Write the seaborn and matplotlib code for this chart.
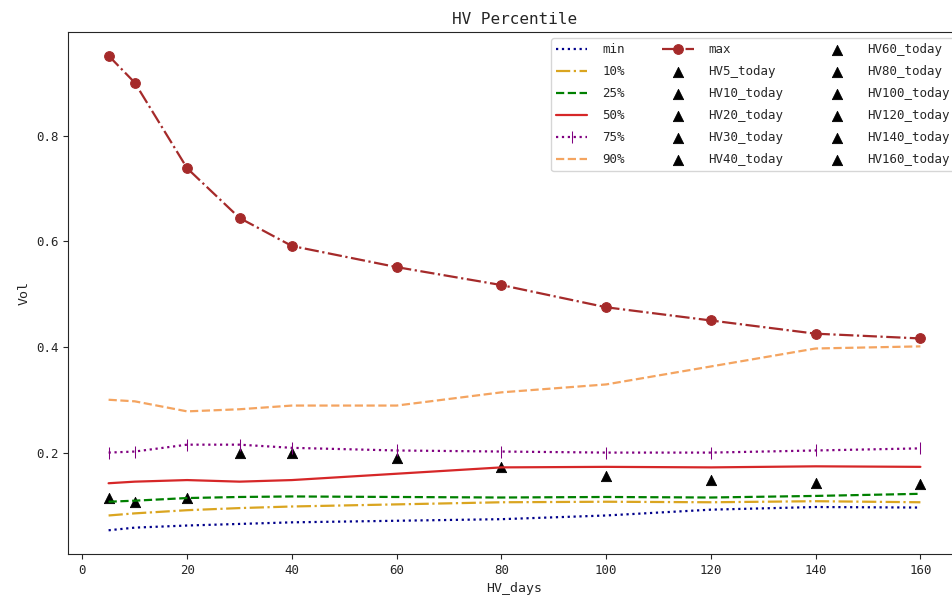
import matplotlib
matplotlib.use('Agg')
import matplotlib.pyplot as plt
import seaborn as sns

# --- Data ---
hv_days = [5, 10, 20, 30, 40, 60, 80, 100, 120, 140, 160]

vol_min = [0.053, 0.058, 0.062, 0.065, 0.068, 0.071, 0.074, 0.081, 0.092, 0.097, 0.096]
vol_p10 = [0.081, 0.085, 0.091, 0.095, 0.098, 0.102, 0.106, 0.107, 0.106, 0.108, 0.106]
vol_p25 = [0.107, 0.109, 0.114, 0.116, 0.117, 0.116, 0.115, 0.116, 0.115, 0.118, 0.122]
vol_p50 = [0.142, 0.145, 0.148, 0.145, 0.148, 0.160, 0.172, 0.173, 0.172, 0.174, 0.173]
vol_p75 = [0.200, 0.202, 0.215, 0.215, 0.209, 0.204, 0.202, 0.200, 0.200, 0.204, 0.208]
vol_p90 = [0.300, 0.297, 0.278, 0.282, 0.289, 0.289, 0.314, 0.329, 0.363, 0.397, 0.401]
vol_max = [0.951, 0.900, 0.738, 0.644, 0.591, 0.551, 0.517, 0.475, 0.450, 0.425, 0.416]

vol_today = [0.114, 0.107, 0.115, 0.200, 0.200, 0.190, 0.172, 0.156, 0.149, 0.143, 0.141]

sns.set_style('ticks')
plt.rcParams['font.family'] = ['DejaVu Sans Mono', 'Noto Sans CJK SC']

fig = plt.figure(figsize=(9.52, 6.03), dpi=100)
# axes runs past the right edge, as in the (cropped) reference
ax = fig.add_axes([68 / 952, 49 / 603, 893 / 952, 522 / 603])

series = [
    ('min', vol_min, 'darkblue', ':', None),
    ('10%', vol_p10, 'goldenrod', '-.', None),
    ('25%', vol_p25, 'green', '--', None),
    ('50%', vol_p50, '#d62728', '-', None),
    ('75%', vol_p75, 'purple', ':', '|'),
    ('90%', vol_p90, 'sandybrown', '--', None),
    ('max', vol_max, 'brown', '-.', 'o'),
]
for label, vals, color, ls, mk in series:
    sns.lineplot(x=hv_days, y=vals, ax=ax, color=color, linestyle=ls,
                 marker=mk, markersize=7 if mk == 'o' else 8,
                 markeredgecolor=color, linewidth=1.6, label=label)

for d, v in zip(hv_days, vol_today):
    sns.scatterplot(x=[d], y=[v], ax=ax, marker='^', color='black',
                    s=55, edgecolor='black', label=f'HV{d}_today')

ax.set_title('HV Percentile', fontsize=11.5)
ax.set_xlabel('HV_days', fontsize=9.5)
ax.set_ylabel('Vol', fontsize=9.5)
ax.tick_params(labelsize=9)
ax.legend(ncol=3, loc='upper right', fontsize=9, framealpha=0.8,
          columnspacing=3.0, handlelength=2.5, handletextpad=1.2,
          labelspacing=0.72)

plt.savefig('out.png', dpi=100)
plt.close()
